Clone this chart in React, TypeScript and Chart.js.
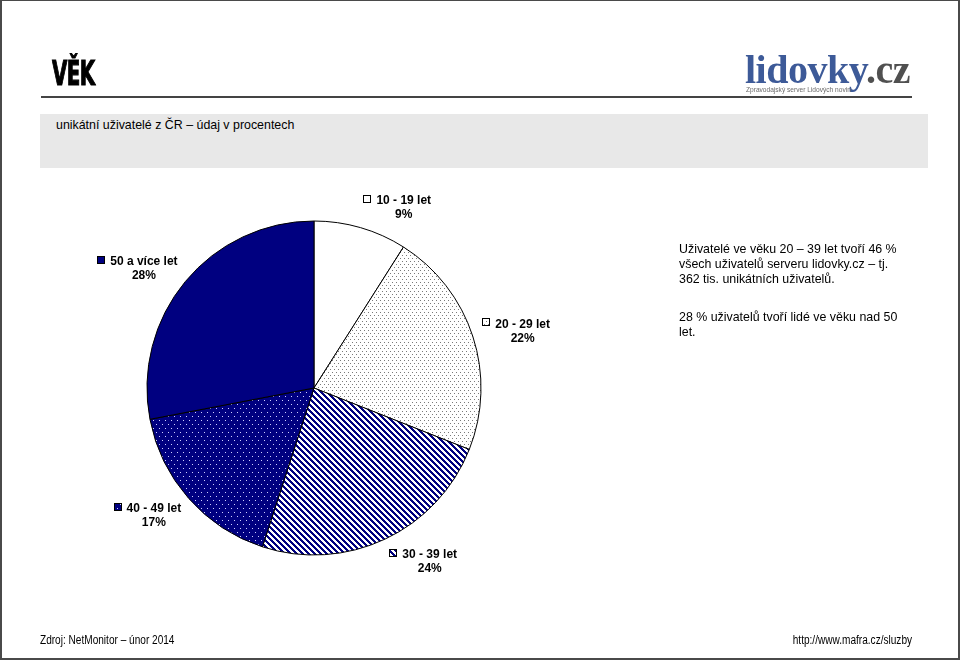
import React, { useEffect, useRef } from 'react';
import { Chart, registerables } from 'chart.js';

Chart.register(...registerables);

// ---- data ----
const categories = ['10 - 19 let', '20 - 29 let', '30 - 39 let', '40 - 49 let', '50 a více let'];
const shares = [9, 22, 24, 17, 28];
const fillKinds = ['white', 'dots', 'diag', 'navyDots', 'navy'];

const NAVY = '#000080';
const SANS = '"Liberation Sans", Arial, Helvetica, sans-serif';

function makeFill(kind: string): string | CanvasPattern {
  if (kind === 'white') return '#ffffff';
  if (kind === 'navy') return NAVY;
  const c = document.createElement('canvas');
  const ctx = c.getContext('2d') as CanvasRenderingContext2D;
  if (kind === 'dots') {
    c.width = 4; c.height = 6;
    ctx.fillStyle = '#ffffff'; ctx.fillRect(0, 0, 4, 6);
    ctx.fillStyle = '#7a7a7a';
    ctx.fillRect(0, 0, 1, 1); ctx.fillRect(2, 3, 1, 1);
  } else if (kind === 'diag') {
    c.width = 6; c.height = 6;
    ctx.fillStyle = '#ffffff'; ctx.fillRect(0, 0, 6, 6);
    ctx.fillStyle = NAVY;
    for (let y = 0; y < 6; y++) for (let x = 0; x < 6; x++) {
      if ((((x - y) % 6) + 6) % 6 < 3) ctx.fillRect(x, y, 1, 1);
    }
  } else if (kind === 'navyDots') {
    c.width = 6; c.height = 8;
    ctx.fillStyle = NAVY; ctx.fillRect(0, 0, 6, 8);
    ctx.fillStyle = '#d0d0ff';
    ctx.fillRect(0, 0, 1, 1); ctx.fillRect(3, 4, 1, 1);
  }
  return ctx.createPattern(c, 'repeat') as CanvasPattern;
}

const outsideLabels = {
  id: 'outsideLabels',
  afterDatasetsDraw(chart: any) {
    const ctx = chart.ctx as CanvasRenderingContext2D;
    const meta = chart.getDatasetMeta(0);
    const ds = chart.data.datasets[0];
    ctx.save();
    ctx.font = 'bold 12px ' + SANS;
    ctx.textBaseline = 'middle';
    meta.data.forEach((arc: any, i: number) => {
      const p = arc.getProps(['x', 'y', 'startAngle', 'endAngle', 'outerRadius'], true);
      const mid = (p.startAngle + p.endAngle) / 2;
      const dx = Math.cos(mid);
      const dy = Math.sin(mid);
      const r = p.outerRadius + 10;
      const px = p.x + dx * r;
      const py = p.y + dy * r;
      const t1 = String(chart.data.labels[i]);
      const t2 = ds.data[i] + '%';
      const w1 = ctx.measureText(t1).width;
      const m = 7, gap = 6;
      const bw = m + gap + w1;
      const bh = 26;
      const left = dx >= 0 ? px : px - bw;
      const top = py - bh * (1 - dy) / 2;
      const mx = Math.round(left) + 0.5;
      const my = Math.round(top + 2) + 0.5;
      ctx.fillStyle = ds.backgroundColor[i];
      ctx.fillRect(mx, my, m, m);
      ctx.strokeStyle = '#000';
      ctx.lineWidth = 1;
      ctx.strokeRect(mx, my, m, m);
      ctx.fillStyle = '#000';
      ctx.textAlign = 'left';
      const tx = left + m + gap;
      ctx.fillText(t1, tx, top + 8);
      ctx.textAlign = 'center';
      ctx.fillText(t2, tx + w1 / 2, top + 22);
    });
    ctx.restore();
  },
};

export default function App() {
  const canvasRef = useRef<HTMLCanvasElement | null>(null);

  useEffect(() => {
    const canvas = canvasRef.current;
    if (!canvas) return;
    const chart = new Chart(canvas, {
      type: 'pie',
      data: {
        labels: categories,
        datasets: [
          {
            data: shares,
            backgroundColor: fillKinds.map(makeFill) as any,
            borderColor: '#000000',
            borderWidth: 1,
            hoverOffset: 0,
          },
        ],
      },
      options: {
        responsive: false,
        animation: false,
        devicePixelRatio: 1,
        layout: { padding: { left: 146.5, right: 478.5, top: 220.5, bottom: 104.5 } },
        plugins: {
          legend: { display: false },
          tooltip: { enabled: false },
          title: { display: false },
        },
      },
      plugins: [outsideLabels],
    });
    return () => chart.destroy();
  }, []);

  const abs = (s: React.CSSProperties): React.CSSProperties => ({ position: 'absolute', whiteSpace: 'nowrap', ...s });

  return (
    <div style={{ position: 'fixed', left: 0, top: 0, width: 960, height: 660, background: '#fff', overflow: 'hidden', fontFamily: SANS, color: '#000' }}>
      <canvas ref={canvasRef} width={960} height={660} style={{ position: 'absolute', left: 0, top: 0, width: 960, height: 660 }} />

      {/* title */}
      <div style={abs({ left: 52, top: 57, fontFamily: '"DejaVu Sans", sans-serif', fontWeight: 'bold', fontSize: 33, lineHeight: '33px', transform: 'scaleX(0.6)', transformOrigin: 'left top', letterSpacing: -1, WebkitTextStroke: '1.2px #000' } as any)}>VĚK</div>

      {/* logo */}
      <div style={abs({ left: 745, top: 50, fontFamily: '"Liberation Serif", "Times New Roman", serif', fontWeight: 'bold', fontSize: 40, lineHeight: '40px', letterSpacing: -0.5 })}>
        <span style={{ color: '#3d5a98' }}>lidovky</span><span style={{ color: '#505050' }}>.cz</span>
      </div>
      <div style={abs({ left: 746, top: 86, fontSize: 6.6, lineHeight: '7px', color: '#6a6a6a' })}>Zpravodajský server Lidových novin</div>

      {/* header rule */}
      <div style={abs({ left: 41, top: 96, width: 871, height: 2, background: '#444' })} />

      {/* subtitle box */}
      <div style={abs({ left: 40, top: 114, width: 888, height: 54, background: '#e8e8e8' })} />
      <div style={abs({ left: 56, top: 117, fontSize: 12.4, lineHeight: '16px' })}>unikátní uživatelé z ČR – údaj v procentech</div>

      {/* commentary */}
      <div style={abs({ left: 679, top: 242, fontSize: 12.4, lineHeight: '15px' })}>
        Uživatelé ve věku 20 – 39 let tvoří 46 %<br />
        všech uživatelů serveru lidovky.cz – tj.<br />
        362 tis. unikátních uživatelů.
      </div>
      <div style={abs({ left: 679, top: 310, fontSize: 12.4, lineHeight: '15px' })}>
        28 % uživatelů tvoří lidé ve věku nad 50<br />
        let.
      </div>

      {/* footer */}
      <div style={abs({ left: 40, top: 632, fontSize: 12, lineHeight: '16px', transform: 'scaleX(0.84)', transformOrigin: 'left top' })}>Zdroj: NetMonitor – únor 2014</div>
      <div style={abs({ right: 48, top: 632, fontSize: 12, lineHeight: '16px', transform: 'scaleX(0.84)', transformOrigin: 'right top' })}>http://www.mafra.cz/sluzby</div>

      {/* frame */}
      <div style={abs({ left: 0, top: 0, width: 960, height: 660, boxSizing: 'border-box', border: '2px solid #4a4a4a', borderTopWidth: 1, pointerEvents: 'none' })} />
    </div>
  );
}
